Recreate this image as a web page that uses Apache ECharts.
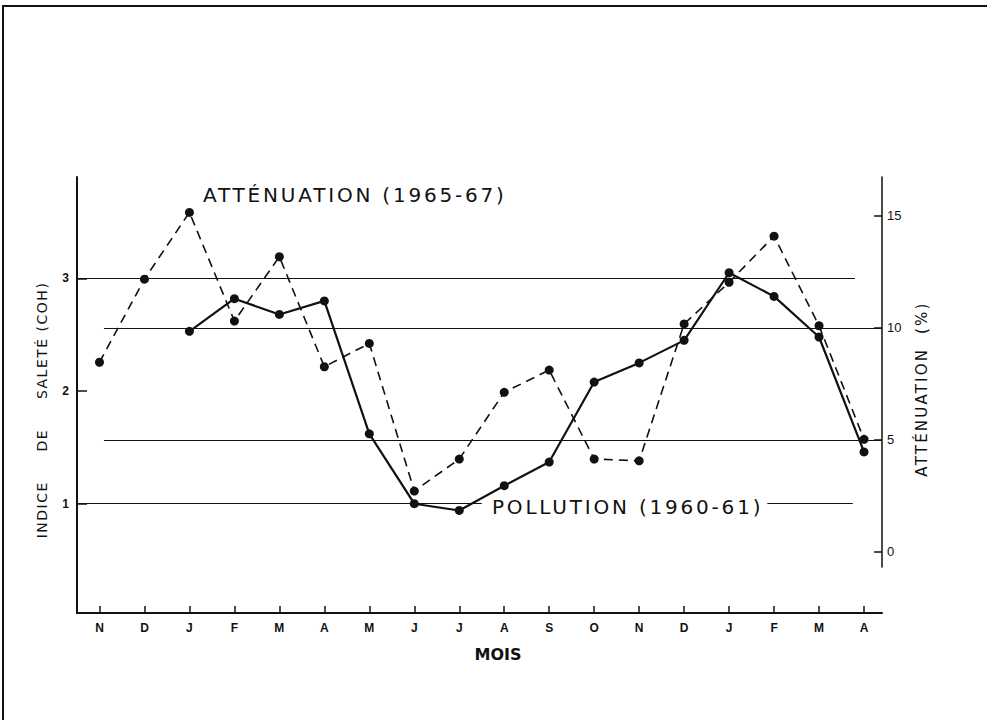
<!DOCTYPE html>
<html>
<head>
<meta charset="utf-8">
<script src="https://cdn.jsdelivr.net/npm/echarts@6/dist/echarts.min.js"></script>
<style>
  html, body { margin: 0; padding: 0; background: #fff; }
  #chart { width: 987px; height: 720px; }
  #chart text[style*="20px"] { letter-spacing: 2.8px; }
  #chart text[style*="15px"] { letter-spacing: 2.2px; }
  #chart text[style*="14px"][style*="DejaVu"] { letter-spacing: 1.5px; }
</style>
</head>
<body>
<div id="chart"></div>
<script>
// months as printed under the axis
const months = ['N', 'D', 'J', 'F', 'M', 'A', 'M', 'J', 'J', 'A', 'S', 'O', 'N', 'D', 'J', 'F', 'M', 'A']
// indice de saleté (COH), left axis
const pollution = [null, null, 2.53, 2.82, 2.68, 2.80, 1.62, 1.00, 0.94, 1.16, 1.37, 2.08, 2.25, 2.45, 3.05, 2.84, 2.48, 1.46]
// atténuation (%), right axis
const attenuation = [8.46, 12.17, 15.15, 10.30, 13.17, 8.26, 9.3, 2.71, 4.14, 7.12, 8.11, 4.14, 4.06, 10.17, 12.03, 14.09, 10.09, 5.02]
const pollutionTicks = [1, 2, 3]
const attenuationTicks = [0, 5, 10, 15]
// reference lines: [value, from month index, to month index]
const pollutionLines = [[3, -0.5, 16.8], [1, -0.5, 8.5], [1, 14.85, 16.75]]
const attenuationLines = [[10, 0.1, 17.4], [5, 0.1, 17.4]]

const ink = '#111'
const monthIdx = months.map((m, i) => i)
const toPairs = arr => arr.map((v, i) => [i, v]).filter(d => d[1] != null)
const toMarkLines = lines => lines.map(([v, a, b]) => [{ coord: [a, v] }, { coord: [b, v] }])

const chart = echarts.init(document.getElementById('chart'), null, { renderer: 'svg' })

chart.setOption({
  animation: false,
  backgroundColor: '#fff',
  grid: [
    { left: 77, right: 105, top: 177, bottom: 107 },
    { left: 77, right: 105, top: 177, bottom: 153 }
  ],
  xAxis: [
    {
      type: 'value', gridIndex: 0, min: -0.5, max: 17.4,
      name: 'MOIS', nameLocation: 'middle', nameGap: 33,
      nameTextStyle: { fontFamily: 'DejaVu Sans', fontWeight: 'bold', fontSize: 16, color: ink, padding: [0, 0, 0, 37] },
      axisLine: { onZero: false, lineStyle: { color: ink, width: 2 } },
      axisTick: { inside: true, length: 7, customValues: monthIdx, lineStyle: { color: ink, width: 1.5 } },
      axisLabel: {
        customValues: monthIdx, formatter: v => months[v], margin: 9,
        fontFamily: 'Liberation Sans', fontWeight: 'bold', fontSize: 12, color: ink
      },
      splitLine: { show: false }
    },
    { type: 'value', gridIndex: 1, min: -0.5, max: 17.4, show: false, axisLine: { onZero: false } }
  ],
  yAxis: [
    {
      type: 'value', gridIndex: 0, min: 0.03, max: 3.9,
      name: 'INDICE     DE     SALETÉ (COH)', nameLocation: 'middle', nameGap: 28,
      nameTextStyle: { fontFamily: 'DejaVu Sans', fontSize: 14, color: ink, padding: [0, 30, 0, 0] },
      axisLine: { show: true, onZero: false, lineStyle: { color: ink, width: 2 } },
      axisTick: { inside: true, length: 10, customValues: pollutionTicks, lineStyle: { color: ink, width: 1.5 } },
      axisLabel: { customValues: pollutionTicks, margin: 8, fontFamily: 'Liberation Sans', fontWeight: 'bold', fontSize: 12, color: ink },
      splitLine: { show: false }
    },
    {
      type: 'value', gridIndex: 1, position: 'right', min: -0.68, max: 16.73,
      name: 'ATTÉNUATION  (%)', nameLocation: 'middle', nameGap: 32,
      nameTextStyle: { fontFamily: 'DejaVu Sans', fontSize: 15, color: ink, padding: [0, 34, 0, 0] },
      axisLine: { show: true, onZero: false, lineStyle: { color: ink, width: 1.5 } },
      axisTick: { inside: true, length: 8, customValues: attenuationTicks, lineStyle: { color: ink, width: 1.5 } },
      axisLabel: { customValues: attenuationTicks, margin: 5, fontFamily: 'Liberation Sans', fontSize: 13, color: ink },
      splitLine: { show: false }
    }
  ],
  graphic: [
    { type: 'rect', silent: true, shape: { x: 3, y: 6, width: 1200, height: 1000 }, style: { fill: 'none', stroke: ink, lineWidth: 2 } },
    { type: 'text', x: 203, y: 195, style: { text: 'ATTÉNUATION (1965-67)', fontFamily: 'DejaVu Sans', fontSize: 20, fill: ink, verticalAlign: 'middle' } },
    { type: 'text', x: 492, y: 507, style: { text: 'POLLUTION (1960-61)', fontFamily: 'DejaVu Sans', fontSize: 20, fill: ink, verticalAlign: 'middle' } }
  ],
  series: [
    {
      name: 'Pollution (1960-61)', type: 'line', xAxisIndex: 0, yAxisIndex: 0,
      data: toPairs(pollution),
      symbol: 'circle', symbolSize: 9, z: 3,
      lineStyle: { color: ink, width: 2.2 },
      itemStyle: { color: ink },
      markLine: {
        silent: true, symbol: ['none', 'none'], label: { show: false },
        lineStyle: { color: ink, width: 1.2, type: 'solid' },
        data: toMarkLines(pollutionLines)
      }
    },
    {
      name: 'Atténuation (1965-67)', type: 'line', xAxisIndex: 1, yAxisIndex: 1,
      data: toPairs(attenuation),
      symbol: 'circle', symbolSize: 9, z: 2,
      lineStyle: { color: ink, width: 1.6, type: [9, 6] },
      itemStyle: { color: ink },
      markLine: {
        silent: true, symbol: ['none', 'none'], label: { show: false },
        lineStyle: { color: ink, width: 1.2, type: 'solid' },
        data: toMarkLines(attenuationLines)
      }
    }
  ]
})
</script>
</body>
</html>
